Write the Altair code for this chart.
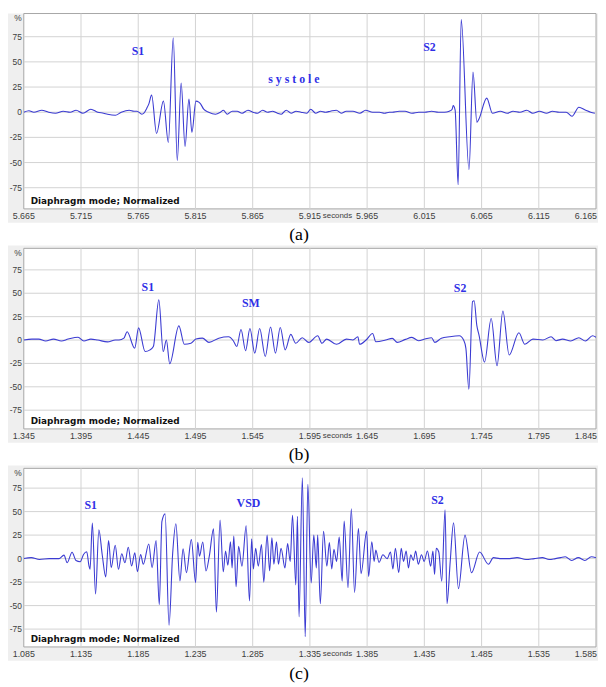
import altair as alt
import pandas as pd

# ---- waveform readings: (milliseconds from panel start, amplitude %) ----
A_START = 5.665
A_WAVE = [(0, 0), (4.5, 1.5), (8.8, 0), (15.7, 2), (21.7, 0), (27.7, -1), (34.5, 1), (40.5, 0),
          (45.7, 2), (51.7, -1), (58.6, 3), (64.6, 0), (69.7, -1), (73.2, -2), (80.0, -3), (85.2, 0),
          (92.1, 2), (96.3, 1), (98.9, 1), (103.2, -2), (104.9, -1), (107.5, 4), (109.2, 8), (111.7, 17),
          (116.0, -21), (122.0, 11), (126.3, -30), (130.6, 74), (134.1, -48), (137.5, 29), (140.9, -34),
          (144.3, 13), (146.9, -20), (150.4, 11), (152.9, 10), (154.6, 8), (157.2, 3), (161.5, 0),
          (167.5, -2), (171.8, 0), (174.4, 2), (177.8, -2), (182.1, 1), (186.4, 1), (190.7, -1),
          (195.9, 2), (200.1, 0), (204.4, -1), (208.7, 2), (213.0, 0), (217.3, 1), (221.6, -1),
          (225.0, -2), (229.3, 2), (233.6, -1), (237.9, 1), (242.2, 0), (247.3, -1), (250.7, 3),
          (255.0, -1), (259.3, 1), (263.6, 0), (267.9, 1), (273.1, 2), (277.4, -1), (281.7, 1),
          (287.6, 1), (293.6, -1), (298.7, 2), (304.8, 0), (310.8, 0), (315.1, -1), (319.4, 0),
          (321.9, 0), (328.0, 1), (333.1, 1), (339.1, -1), (345.1, 0), (350.3, 0), (356.3, 1),
          (362.3, 0), (367.5, 0), (371.8, 1), (374.3, 3), (375.2, 6.5), (376.9, 2), (379.5, -72),
          (382.2, 92), (389.0, -57), (392.5, 40), (395.9, -10), (397.6, -7), (404.5, 14), (409.5, -1),
          (416.4, 1), (422.4, -1), (427.5, 1), (433.5, 0), (439.5, 2), (444.7, -1), (450.7, 1),
          (456.7, -1), (461.9, 1), (467.9, 0), (473.9, 0), (479.0, -4), (485.0, 5), (491.0, 2),
          (495.3, 0), (499.0, -1)]
A_LABELS = [("S1", 99.7, 61), ("s y s t o l e", 236, 33), ("S2", 354.5, 65)]

B_START = 1.345
B_WAVE = [(0, 0), (7.1, 1), (13.1, 1), (19.1, -1), (26.0, 1), (32.8, -1), (38.8, 1), (47.4, 3),
          (52.5, -1), (58.6, 1), (64.6, 0), (73.1, -2), (80.0, 0), (83.2, 0), (87.5, 2), (90.3, 8.8),
          (96.9, -8.8), (100.3, 13), (106.0, -12.3), (110.3, -10.5), (113.2, -7), (118.0, 42.9),
          (121.8, -12.3), (124.6, 0), (127.5, -25.3), (135.5, 15.1), (140.3, -4.6), (146.1, -3.5),
          (150.4, 1), (156.1, 2), (161.8, -2.5), (170.4, 2), (178.9, 3.5), (183.2, -1), (186.1, -7),
          (189.8, 11.3), (193.8, -11.3), (197.6, 12.3), (201.8, -14), (206.1, 12.3), (211.0, -17.6),
          (215.6, 14), (219.9, -14), (224.1, 13.4), (228.4, -10.5), (233.3, 6), (237.6, -3.5),
          (243.3, 2.5), (249.0, -2.5), (256.8, 4.6), (260.5, -3.5), (264.7, 1), (273.3, -4.6),
          (281.9, 1), (287.6, 0), (291.9, 3.5), (293.4, -4.6), (299.1, 0), (304.8, 7), (307.6, -1.8),
          (316.2, 0), (322.0, 1.8), (326.3, -2.5), (333.4, 0.7), (339.1, 2.8), (344.9, -0.7),
          (350.5, 1), (356.3, 2.5), (359.1, -2.5), (364.9, 1.8), (372.0, 3.5), (380.6, 4.6),
          (384.3, 0), (386.3, -9), (388.9, -52.7), (392.1, 41), (393.5, 42), (395.8, 16), (397.8, 5),
          (402.6, -23.5), (408.4, 23), (413.5, -27.4), (418.6, 31), (424.1, -16), (432.6, 7.7),
          (437.8, -4.6), (444.9, 1), (453.5, 0), (460.7, 3.5), (465.0, -0.7), (470.7, 1),
          (477.9, -1), (485.0, 2.5), (490.7, -1), (497.0, 4.6), (500, 3)]
B_LABELS = [("S1", 108.4, 57), ("SM", 198.4, 39), ("S2", 381.2, 56)]

C_START = 1.085
C_WAVE = [(0, 0), (6.5, 1), (13.7, -1), (22.3, 0), (30.8, 0), (35.1, 3.7), (37.9, -4.4), (42.2, 6.8),
          (45.6, -2), (49.3, -3.3), (52.2, 4.4), (55.0, 7.2), (57.0, -7.9), (57.9, -11.4), (59.9, 37.7),
          (62.7, -37.7), (65.6, 30.7), (68.5, 4.4), (71.6, -19.5), (74.1, 19.1), (76.4, -9.7),
          (79.9, 14.2), (82.7, -11.4), (85.6, 5.1), (88.4, -4.4), (91.3, 12.1), (94.2, -7.9),
          (97.0, 6.1), (99.3, -13.9), (102.1, 4.4), (104.4, -6.1), (109.2, 15.6), (112.1, -9.7),
          (115.6, 19.1), (118.4, -49), (120.7, 39.5), (123.5, 47.6), (126.9, -71), (130.1, 5.8),
          (132.9, 37), (136.4, -23.7), (139.2, 10.4), (142.1, -14.9), (146.4, 20.2), (150.1, -25.5),
          (152.0, 17.4), (153.5, 2.6), (156.4, 17.6), (159.2, -13.2), (162.1, 2.6), (165.8, 31.8),
          (168.3, -57), (171.5, 41), (174.3, -14), (176.3, 8), (178.3, -7), (180.6, 18), (182.0, -10),
          (183.5, 24), (185.5, -30), (187.7, 13), (190.6, -8), (194.3, 35), (197.2, -45), (199.1, 21),
          (200.6, -11), (202.6, 11), (204.9, -8), (207.7, 15), (209.7, -25), (212.6, 25), (214.8, -13),
          (216.8, 22), (218.5, -6), (220.8, 18), (222.5, -6), (224.8, 11), (228.2, -10), (230.5, 16),
          (232.8, -3), (234.8, 46), (237.7, -28), (239.1, 45), (240.5, -62), (243.4, 86), (245.9, -83),
          (248.2, 79), (251.1, -26), (253.4, 25), (255.6, -10), (256.8, 25), (259.1, -48), (261.9, 29),
          (264.8, -8), (267.0, 17), (269.1, -11), (271.0, 10), (273.3, -3), (275.6, 23), (278.2, -24),
          (279.9, 40), (283.3, -31), (286.2, 53), (289.0, -36), (292.4, 32), (294.7, -16), (299.6, 29),
          (301.3, -19), (304.1, 18), (306.1, -3), (307.6, 9), (310.4, -4), (313.8, 4), (317.5, 0),
          (320.4, 7), (322.5, -11), (324.7, 11), (327.6, -15), (329.8, 11), (331.8, -3), (334.1, 8),
          (336.1, -10), (338.1, 4), (340.4, -2), (342.4, 8), (344.7, -6), (347.5, 4), (349.8, -3),
          (352.7, 8), (355.5, -8), (357.5, 8), (358.9, -17), (360.4, 11), (362.6, 7), (365.2, -24),
          (368.1, 52), (369.8, -48), (372.6, -3), (375.5, 38), (379.8, -32), (385.5, 25), (391.2, -15),
          (398.3, 7), (406.0, -6), (410.3, 1), (416, 0), (424.6, 0), (431, 1), (438.8, -1), (446, 0),
          (453.1, 1), (459, -1), (464.5, 0), (469, 1), (473.1, 2), (478.8, -2), (484.5, 1),
          (490.2, -2), (495.9, 2), (500, 1)]
C_LABELS = [("S1", 58.5, 57), ("VSD", 196.3, 59.5), ("S2", 361.4, 62.7)]

Y_TICKS = [-75, -50, -25, 0, 25, 50, 75]
CAPTIONS = ["(a)", "(b)", "(c)"]

W = 580
LINE_COLOR = "#3b3bd2"
LABEL_COLOR = "#2f2fe6"
AXIS_FONT = "Liberation Sans"
AXIS_COLOR = "#404040"


def make_panel(start, wave, labels, H, ydom, caption, rect_top):
    ms, val = zip(*wave)
    df = pd.DataFrame({"t": [start + m / 1000 for m in ms], "v": list(val)})
    lab = pd.DataFrame({"label": [l[0] for l in labels],
                        "t": [start + l[1] / 1000 for l in labels],
                        "v": [l[2] for l in labels]})
    xticks = [round(start + 0.05 * i, 3) for i in range(11)]
    xt = pd.DataFrame({"t": xticks, "txt": [f"{v:.3f}" for v in xticks]})
    yt = pd.DataFrame({"v": Y_TICKS, "txt": [str(v) for v in Y_TICKS]})
    xscale = alt.Scale(domain=[start, start + 0.5], nice=False, zero=False)
    yscale = alt.Scale(domain=ydom, nice=False, zero=False)
    X = alt.X("t:Q", scale=xscale, axis=None)
    Y = alt.Y("v:Q", scale=yscale, axis=None)
    one = pd.DataFrame({"k": [0]})

    band = alt.Chart(one).mark_rect(color="#efefef").encode(
        x=alt.value(-16), x2=alt.value(W + 2), y=alt.value(rect_top), y2=alt.value(H + 14))
    frame = alt.Chart(one).mark_rect(fill="white", stroke="#a6a6a6", strokeWidth=1).encode(
        x=alt.value(0), x2=alt.value(W), y=alt.value(0), y2=alt.value(H))
    vgrid = alt.Chart(xt.iloc[1:-1]).mark_rule(color="#d2d2d2", strokeWidth=1).encode(x=X)
    hgrid = alt.Chart(yt).mark_rule(color="#d2d2d2", strokeWidth=1).encode(y=Y)

    xlab = alt.Chart(xt.iloc[:-1]).mark_text(font=AXIS_FONT, fontSize=9, color=AXIS_COLOR,
                                             baseline="middle").encode(
        x=X, y=alt.value(H + 7), text="txt:N")
    xlab_end = alt.Chart(xt.iloc[-1:]).mark_text(font=AXIS_FONT, fontSize=9, color=AXIS_COLOR,
                                                 baseline="middle", align="right", dx=1).encode(
        x=X, y=alt.value(H + 7), text="txt:N")
    ylab = alt.Chart(yt).mark_text(font=AXIS_FONT, fontSize=8.5, color=AXIS_COLOR,
                                   baseline="middle", align="right").encode(
        x=alt.value(-2), y=Y, text="txt:N")
    pct = alt.Chart(one).mark_text(text="%", font=AXIS_FONT, fontSize=8.5, color=AXIS_COLOR,
                                   baseline="middle", align="right").encode(
        x=alt.value(-2), y=alt.value(5))

    line = alt.Chart(df).mark_line(color=LINE_COLOR, strokeWidth=1.1, clip=True,
                                   interpolate="monotone").encode(x=X, y=Y)
    texts = alt.Chart(lab).mark_text(font="Liberation Serif", fontWeight="bold", fontSize=12,
                                     color=LABEL_COLOR).encode(x=X, y=Y, text="label:N")
    diag = alt.Chart(one).mark_text(text="Diaphragm mode; Normalized", font="DejaVu Sans",
                                    fontWeight="bold", fontSize=9, align="left",
                                    baseline="middle", color="#111111").encode(
        x=alt.value(7), y=alt.value(H - 8))
    secs = alt.Chart(one).mark_text(text="seconds", font=AXIS_FONT, fontSize=8,
                                    color=AXIS_COLOR, baseline="middle").encode(
        x=alt.value(318), y=alt.value(H + 7))
    cap = alt.Chart(one).mark_text(text=caption, font="Liberation Serif", fontSize=18,
                                   color="black").encode(
        x=alt.value(279), y=alt.value(H + 27))
    return alt.layer(band, frame, vgrid, hgrid, line, texts, diag, xlab, xlab_end, ylab, pct,
                     secs, cap).properties(width=W, height=H)


pa = make_panel(A_START, A_WAVE, A_LABELS, 198, [-96, 98], CAPTIONS[0], 0)
pb = make_panel(B_START, B_WAVE, B_LABELS, 183, [-95, 98], CAPTIONS[1], -3)
pc = make_panel(C_START, C_WAVE, C_LABELS, 181, [-94, 96], CAPTIONS[2], -3)

chart = alt.vconcat(pa, pb, pc, spacing=40, bounds="flush").configure_view(
    strokeOpacity=0).properties(padding=0, background="white")

chart.save("out.html", embed_options={"renderer": "svg", "actions": False})
